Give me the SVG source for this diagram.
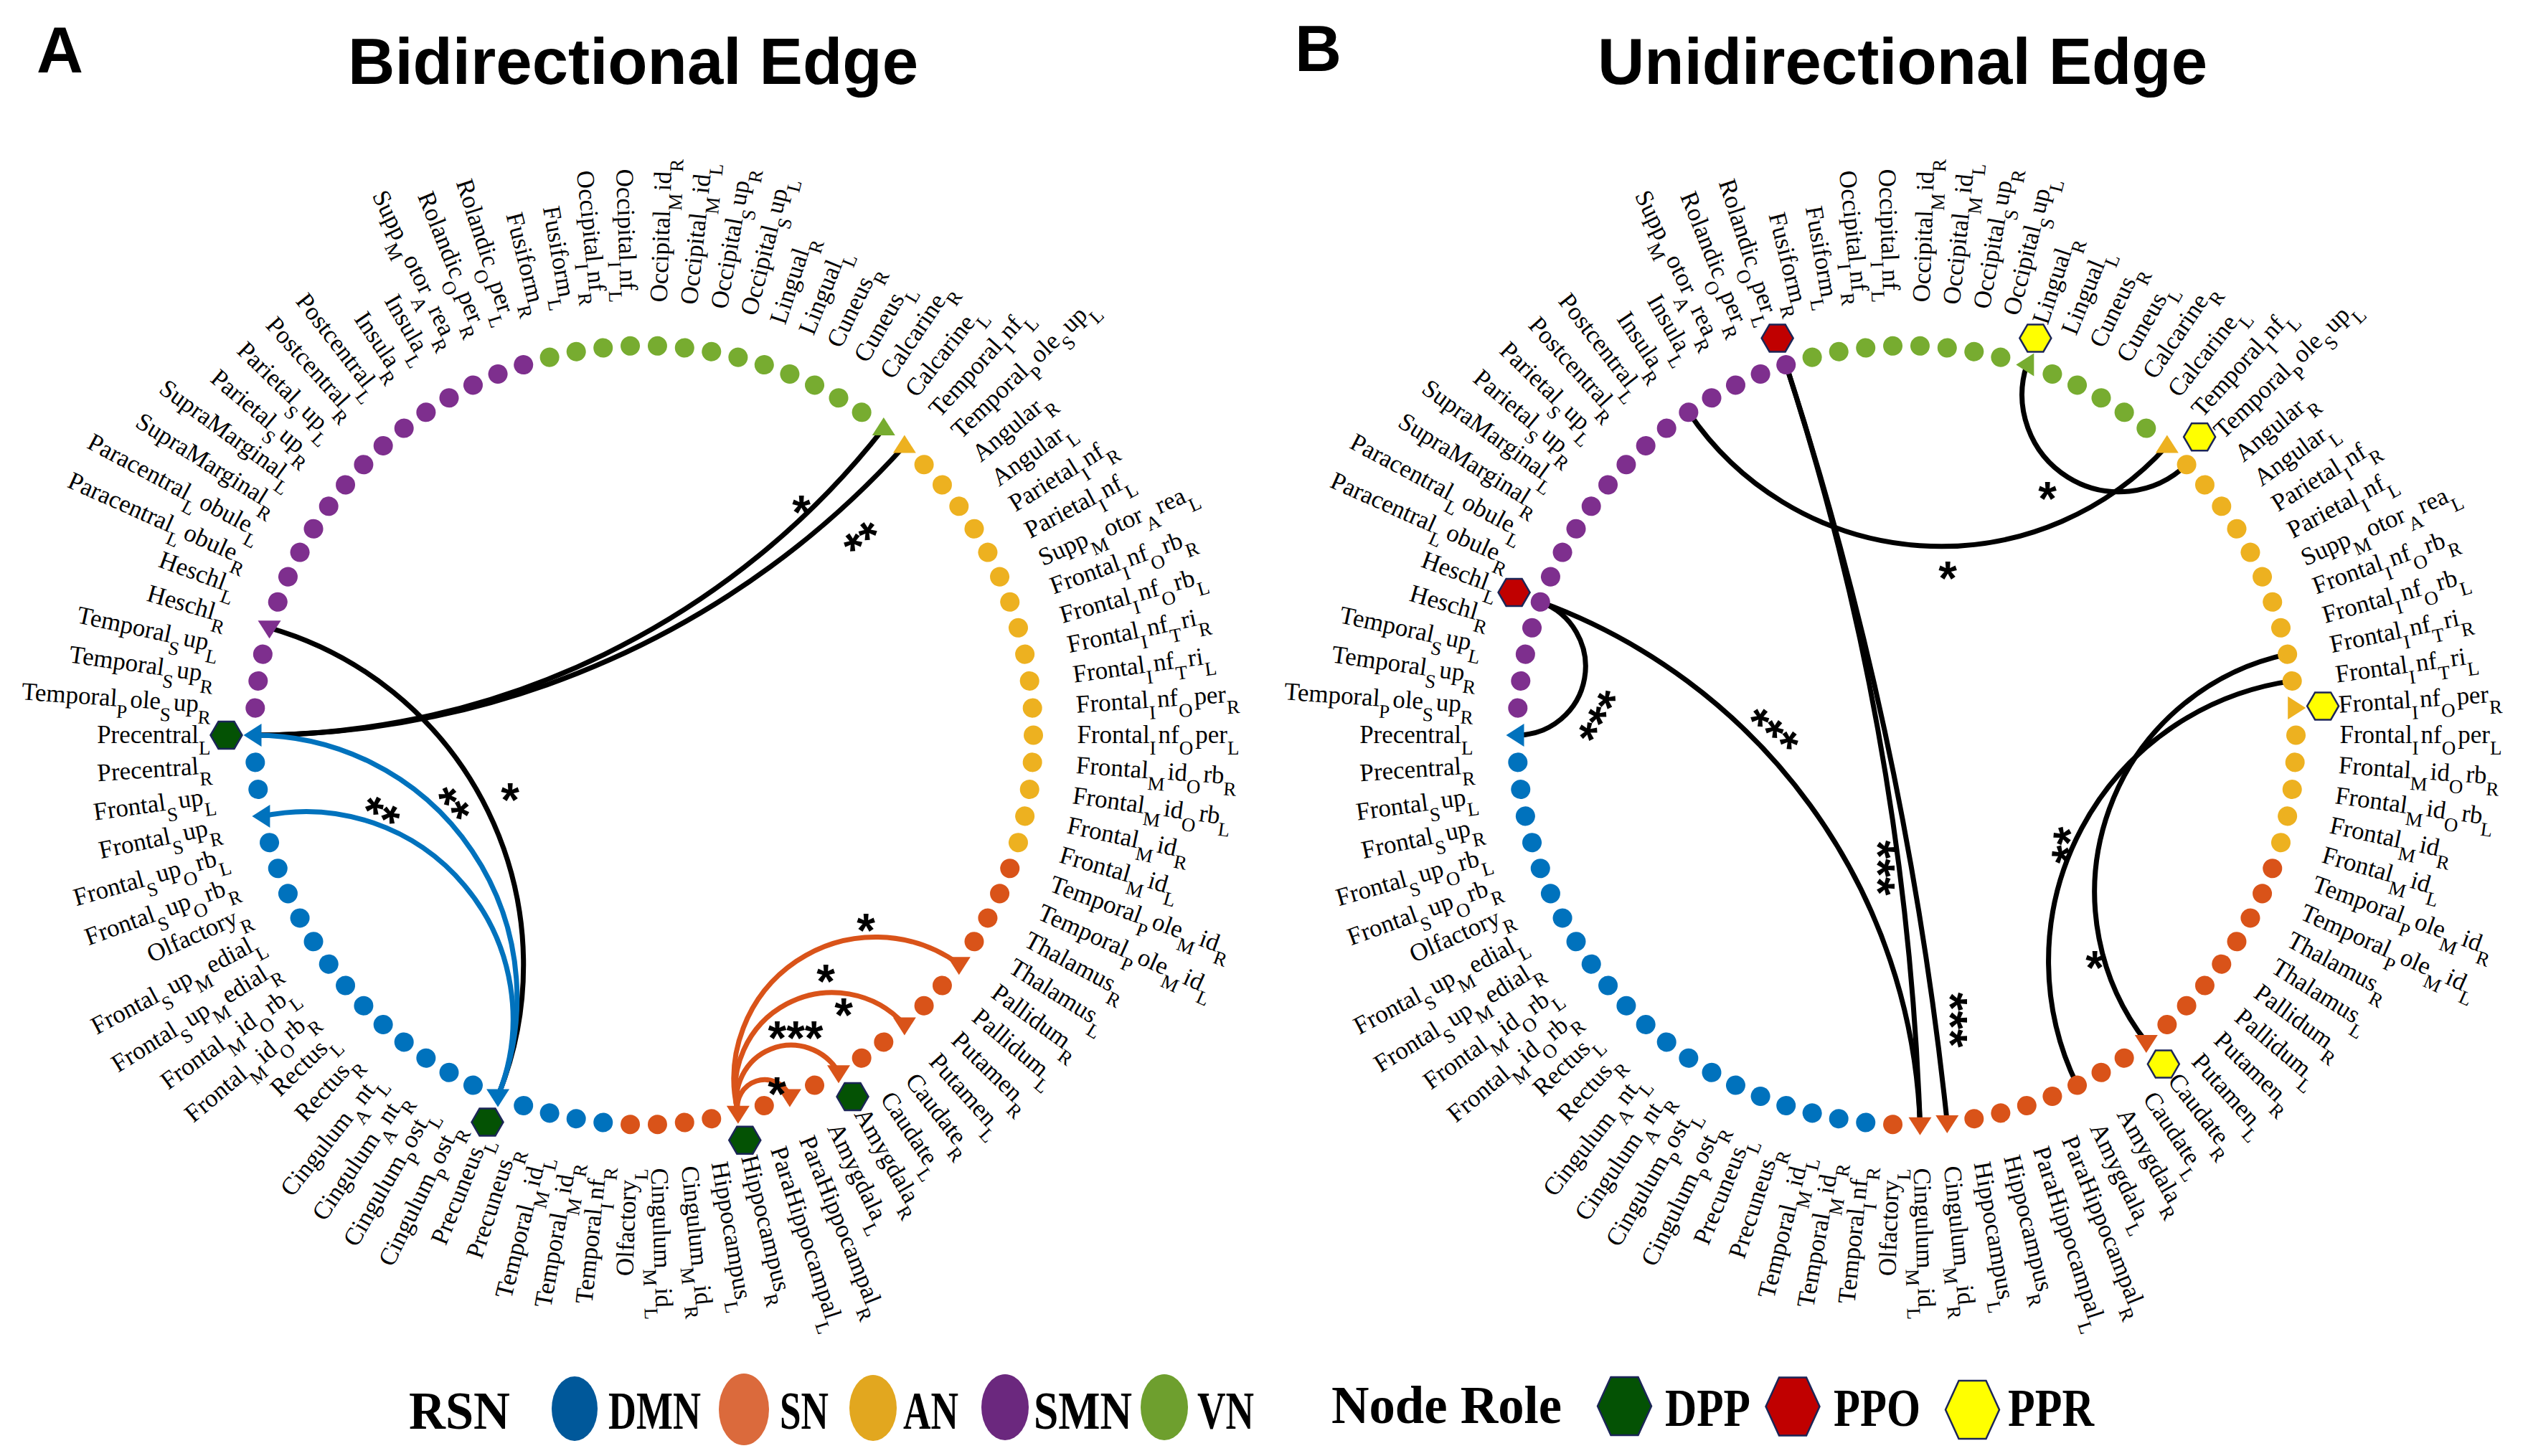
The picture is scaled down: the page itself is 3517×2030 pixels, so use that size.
<svg xmlns="http://www.w3.org/2000/svg" width="3517" height="2030" viewBox="0 0 3517 2030">
<style>
.b{fill:#0072BD}.o{fill:#D95319}.y{fill:#EDB120}.p{fill:#7E2F8E}.g{fill:#77AC30}
text{font-family:"Liberation Serif","Times New Roman",serif;fill:#000}
.lr{font-size:35px}
.ll{font-size:35px;text-anchor:end}
.s{font-size:27px}
.e{fill:none;stroke:#000;stroke-width:7}
.eb{stroke:#0072BD}.eo{stroke:#D95319}
.st{font-family:"Liberation Sans",Arial,sans-serif;font-weight:bold;font-size:66px;text-anchor:middle}
.ti{font-family:"Liberation Sans",Arial,sans-serif;font-weight:bold;font-size:90px}
.hx{stroke:#1B2557;stroke-width:2.5}
.dpp{fill:#045204}.ppo{fill:#C00000}.ppr{fill:#FFFF00}
.lg{font-size:74px;font-weight:bold}
</style>
<defs>
<circle id="d" cx="543" cy="0" r="13.5"/>
<polygon id="tr" points="15,0 -10,-16 -10,16"/>
<polygon id="hx" points="-22,0 -11,-19 11,-19 22,0 11,19 -11,19"/>
<polygon id="hxl" points="-37.5,0 -19,-40.5 19,-40.5 37.5,0 19,40.5 -19,40.5"/>
<text id="L1" class="ll" transform="rotate(180)" x="-604" y="11">Precentral<tspan class="s" dy="16">L</tspan></text>
<text id="L2" class="ll" transform="rotate(180)" x="-604" y="11">Precentral<tspan class="s" dy="16">R</tspan></text>
<text id="L3" class="ll" transform="rotate(180)" x="-604" y="11">Frontal<tspan class="s" dy="16">S</tspan><tspan dx="3" dy="-16">up</tspan><tspan class="s" dy="16">L</tspan></text>
<text id="L4" class="ll" transform="rotate(180)" x="-604" y="11">Frontal<tspan class="s" dy="16">S</tspan><tspan dx="3" dy="-16">up</tspan><tspan class="s" dy="16">R</tspan></text>
<text id="L5" class="ll" transform="rotate(180)" x="-604" y="11">Frontal<tspan class="s" dy="16">S</tspan><tspan dx="3" dy="-16">up</tspan><tspan class="s" dy="16">O</tspan><tspan dx="3" dy="-16">rb</tspan><tspan class="s" dy="16">L</tspan></text>
<text id="L6" class="ll" transform="rotate(180)" x="-604" y="11">Frontal<tspan class="s" dy="16">S</tspan><tspan dx="3" dy="-16">up</tspan><tspan class="s" dy="16">O</tspan><tspan dx="3" dy="-16">rb</tspan><tspan class="s" dy="16">R</tspan></text>
<text id="L7" class="ll" transform="rotate(180)" x="-604" y="11">Olfactory<tspan class="s" dy="16">R</tspan></text>
<text id="L8" class="ll" transform="rotate(180)" x="-604" y="11">Frontal<tspan class="s" dy="16">S</tspan><tspan dx="3" dy="-16">up</tspan><tspan class="s" dy="16">M</tspan><tspan dx="3" dy="-16">edial</tspan><tspan class="s" dy="16">L</tspan></text>
<text id="L9" class="ll" transform="rotate(180)" x="-604" y="11">Frontal<tspan class="s" dy="16">S</tspan><tspan dx="3" dy="-16">up</tspan><tspan class="s" dy="16">M</tspan><tspan dx="3" dy="-16">edial</tspan><tspan class="s" dy="16">R</tspan></text>
<text id="L10" class="ll" transform="rotate(180)" x="-604" y="11">Frontal<tspan class="s" dy="16">M</tspan><tspan dx="3" dy="-16">id</tspan><tspan class="s" dy="16">O</tspan><tspan dx="3" dy="-16">rb</tspan><tspan class="s" dy="16">L</tspan></text>
<text id="L11" class="ll" transform="rotate(180)" x="-604" y="11">Frontal<tspan class="s" dy="16">M</tspan><tspan dx="3" dy="-16">id</tspan><tspan class="s" dy="16">O</tspan><tspan dx="3" dy="-16">rb</tspan><tspan class="s" dy="16">R</tspan></text>
<text id="L12" class="ll" transform="rotate(180)" x="-604" y="11">Rectus<tspan class="s" dy="16">L</tspan></text>
<text id="L13" class="ll" transform="rotate(180)" x="-604" y="11">Rectus<tspan class="s" dy="16">R</tspan></text>
<text id="L14" class="ll" transform="rotate(180)" x="-604" y="11">Cingulum<tspan class="s" dy="16">A</tspan><tspan dx="3" dy="-16">nt</tspan><tspan class="s" dy="16">L</tspan></text>
<text id="L15" class="ll" transform="rotate(180)" x="-604" y="11">Cingulum<tspan class="s" dy="16">A</tspan><tspan dx="3" dy="-16">nt</tspan><tspan class="s" dy="16">R</tspan></text>
<text id="L16" class="ll" transform="rotate(180)" x="-604" y="11">Cingulum<tspan class="s" dy="16">P</tspan><tspan dx="3" dy="-16">ost</tspan><tspan class="s" dy="16">L</tspan></text>
<text id="L17" class="ll" transform="rotate(180)" x="-604" y="11">Cingulum<tspan class="s" dy="16">P</tspan><tspan dx="3" dy="-16">ost</tspan><tspan class="s" dy="16">R</tspan></text>
<text id="L18" class="ll" transform="rotate(180)" x="-604" y="11">Precuneus<tspan class="s" dy="16">L</tspan></text>
<text id="L19" class="ll" transform="rotate(180)" x="-604" y="11">Precuneus<tspan class="s" dy="16">R</tspan></text>
<text id="L20" class="ll" transform="rotate(180)" x="-604" y="11">Temporal<tspan class="s" dy="16">M</tspan><tspan dx="3" dy="-16">id</tspan><tspan class="s" dy="16">L</tspan></text>
<text id="L21" class="ll" transform="rotate(180)" x="-604" y="11">Temporal<tspan class="s" dy="16">M</tspan><tspan dx="3" dy="-16">id</tspan><tspan class="s" dy="16">R</tspan></text>
<text id="L22" class="ll" transform="rotate(180)" x="-604" y="11">Temporal<tspan class="s" dy="16">I</tspan><tspan dx="3" dy="-16">nf</tspan><tspan class="s" dy="16">R</tspan></text>
<text id="L23" class="ll" transform="rotate(180)" x="-604" y="11">Olfactory<tspan class="s" dy="16">L</tspan></text>
<text id="L24" class="lr" x="604" y="11">Cingulum<tspan class="s" dy="16">M</tspan><tspan dx="3" dy="-16">id</tspan><tspan class="s" dy="16">L</tspan></text>
<text id="L25" class="lr" x="604" y="11">Cingulum<tspan class="s" dy="16">M</tspan><tspan dx="3" dy="-16">id</tspan><tspan class="s" dy="16">R</tspan></text>
<text id="L26" class="lr" x="604" y="11">Hippocampus<tspan class="s" dy="16">L</tspan></text>
<text id="L27" class="lr" x="604" y="11">Hippocampus<tspan class="s" dy="16">R</tspan></text>
<text id="L28" class="lr" x="604" y="11">ParaHippocampal<tspan class="s" dy="16">L</tspan></text>
<text id="L29" class="lr" x="604" y="11">ParaHippocampal<tspan class="s" dy="16">R</tspan></text>
<text id="L30" class="lr" x="604" y="11">Amygdala<tspan class="s" dy="16">L</tspan></text>
<text id="L31" class="lr" x="604" y="11">Amygdala<tspan class="s" dy="16">R</tspan></text>
<text id="L32" class="lr" x="604" y="11">Caudate<tspan class="s" dy="16">L</tspan></text>
<text id="L33" class="lr" x="604" y="11">Caudate<tspan class="s" dy="16">R</tspan></text>
<text id="L34" class="lr" x="604" y="11">Putamen<tspan class="s" dy="16">L</tspan></text>
<text id="L35" class="lr" x="604" y="11">Putamen<tspan class="s" dy="16">R</tspan></text>
<text id="L36" class="lr" x="604" y="11">Pallidum<tspan class="s" dy="16">L</tspan></text>
<text id="L37" class="lr" x="604" y="11">Pallidum<tspan class="s" dy="16">R</tspan></text>
<text id="L38" class="lr" x="604" y="11">Thalamus<tspan class="s" dy="16">L</tspan></text>
<text id="L39" class="lr" x="604" y="11">Thalamus<tspan class="s" dy="16">R</tspan></text>
<text id="L40" class="lr" x="604" y="11">Temporal<tspan class="s" dy="16">P</tspan><tspan dx="3" dy="-16">ole</tspan><tspan class="s" dy="16">M</tspan><tspan dx="3" dy="-16">id</tspan><tspan class="s" dy="16">L</tspan></text>
<text id="L41" class="lr" x="604" y="11">Temporal<tspan class="s" dy="16">P</tspan><tspan dx="3" dy="-16">ole</tspan><tspan class="s" dy="16">M</tspan><tspan dx="3" dy="-16">id</tspan><tspan class="s" dy="16">R</tspan></text>
<text id="L42" class="lr" x="604" y="11">Frontal<tspan class="s" dy="16">M</tspan><tspan dx="3" dy="-16">id</tspan><tspan class="s" dy="16">L</tspan></text>
<text id="L43" class="lr" x="604" y="11">Frontal<tspan class="s" dy="16">M</tspan><tspan dx="3" dy="-16">id</tspan><tspan class="s" dy="16">R</tspan></text>
<text id="L44" class="lr" x="604" y="11">Frontal<tspan class="s" dy="16">M</tspan><tspan dx="3" dy="-16">id</tspan><tspan class="s" dy="16">O</tspan><tspan dx="3" dy="-16">rb</tspan><tspan class="s" dy="16">L</tspan></text>
<text id="L45" class="lr" x="604" y="11">Frontal<tspan class="s" dy="16">M</tspan><tspan dx="3" dy="-16">id</tspan><tspan class="s" dy="16">O</tspan><tspan dx="3" dy="-16">rb</tspan><tspan class="s" dy="16">R</tspan></text>
<text id="L46" class="lr" x="604" y="11">Frontal<tspan class="s" dy="16">I</tspan><tspan dx="3" dy="-16">nf</tspan><tspan class="s" dy="16">O</tspan><tspan dx="3" dy="-16">per</tspan><tspan class="s" dy="16">L</tspan></text>
<text id="L47" class="lr" x="604" y="11">Frontal<tspan class="s" dy="16">I</tspan><tspan dx="3" dy="-16">nf</tspan><tspan class="s" dy="16">O</tspan><tspan dx="3" dy="-16">per</tspan><tspan class="s" dy="16">R</tspan></text>
<text id="L48" class="lr" x="604" y="11">Frontal<tspan class="s" dy="16">I</tspan><tspan dx="3" dy="-16">nf</tspan><tspan class="s" dy="16">T</tspan><tspan dx="3" dy="-16">ri</tspan><tspan class="s" dy="16">L</tspan></text>
<text id="L49" class="lr" x="604" y="11">Frontal<tspan class="s" dy="16">I</tspan><tspan dx="3" dy="-16">nf</tspan><tspan class="s" dy="16">T</tspan><tspan dx="3" dy="-16">ri</tspan><tspan class="s" dy="16">R</tspan></text>
<text id="L50" class="lr" x="604" y="11">Frontal<tspan class="s" dy="16">I</tspan><tspan dx="3" dy="-16">nf</tspan><tspan class="s" dy="16">O</tspan><tspan dx="3" dy="-16">rb</tspan><tspan class="s" dy="16">L</tspan></text>
<text id="L51" class="lr" x="604" y="11">Frontal<tspan class="s" dy="16">I</tspan><tspan dx="3" dy="-16">nf</tspan><tspan class="s" dy="16">O</tspan><tspan dx="3" dy="-16">rb</tspan><tspan class="s" dy="16">R</tspan></text>
<text id="L52" class="lr" x="604" y="11">Supp<tspan class="s" dy="16">M</tspan><tspan dx="3" dy="-16">otor</tspan><tspan class="s" dy="16">A</tspan><tspan dx="3" dy="-16">rea</tspan><tspan class="s" dy="16">L</tspan></text>
<text id="L53" class="lr" x="604" y="11">Parietal<tspan class="s" dy="16">I</tspan><tspan dx="3" dy="-16">nf</tspan><tspan class="s" dy="16">L</tspan></text>
<text id="L54" class="lr" x="604" y="11">Parietal<tspan class="s" dy="16">I</tspan><tspan dx="3" dy="-16">nf</tspan><tspan class="s" dy="16">R</tspan></text>
<text id="L55" class="lr" x="604" y="11">Angular<tspan class="s" dy="16">L</tspan></text>
<text id="L56" class="lr" x="604" y="11">Angular<tspan class="s" dy="16">R</tspan></text>
<text id="L57" class="lr" x="604" y="11">Temporal<tspan class="s" dy="16">P</tspan><tspan dx="3" dy="-16">ole</tspan><tspan class="s" dy="16">S</tspan><tspan dx="3" dy="-16">up</tspan><tspan class="s" dy="16">L</tspan></text>
<text id="L58" class="lr" x="604" y="11">Temporal<tspan class="s" dy="16">I</tspan><tspan dx="3" dy="-16">nf</tspan><tspan class="s" dy="16">L</tspan></text>
<text id="L59" class="lr" x="604" y="11">Calcarine<tspan class="s" dy="16">L</tspan></text>
<text id="L60" class="lr" x="604" y="11">Calcarine<tspan class="s" dy="16">R</tspan></text>
<text id="L61" class="lr" x="604" y="11">Cuneus<tspan class="s" dy="16">L</tspan></text>
<text id="L62" class="lr" x="604" y="11">Cuneus<tspan class="s" dy="16">R</tspan></text>
<text id="L63" class="lr" x="604" y="11">Lingual<tspan class="s" dy="16">L</tspan></text>
<text id="L64" class="lr" x="604" y="11">Lingual<tspan class="s" dy="16">R</tspan></text>
<text id="L65" class="lr" x="604" y="11">Occipital<tspan class="s" dy="16">S</tspan><tspan dx="3" dy="-16">up</tspan><tspan class="s" dy="16">L</tspan></text>
<text id="L66" class="lr" x="604" y="11">Occipital<tspan class="s" dy="16">S</tspan><tspan dx="3" dy="-16">up</tspan><tspan class="s" dy="16">R</tspan></text>
<text id="L67" class="lr" x="604" y="11">Occipital<tspan class="s" dy="16">M</tspan><tspan dx="3" dy="-16">id</tspan><tspan class="s" dy="16">L</tspan></text>
<text id="L68" class="lr" x="604" y="11">Occipital<tspan class="s" dy="16">M</tspan><tspan dx="3" dy="-16">id</tspan><tspan class="s" dy="16">R</tspan></text>
<text id="L69" class="ll" transform="rotate(180)" x="-604" y="11">Occipital<tspan class="s" dy="16">I</tspan><tspan dx="3" dy="-16">nf</tspan><tspan class="s" dy="16">L</tspan></text>
<text id="L70" class="ll" transform="rotate(180)" x="-604" y="11">Occipital<tspan class="s" dy="16">I</tspan><tspan dx="3" dy="-16">nf</tspan><tspan class="s" dy="16">R</tspan></text>
<text id="L71" class="ll" transform="rotate(180)" x="-604" y="11">Fusiform<tspan class="s" dy="16">L</tspan></text>
<text id="L72" class="ll" transform="rotate(180)" x="-604" y="11">Fusiform<tspan class="s" dy="16">R</tspan></text>
<text id="L73" class="ll" transform="rotate(180)" x="-604" y="11">Rolandic<tspan class="s" dy="16">O</tspan><tspan dx="3" dy="-16">per</tspan><tspan class="s" dy="16">L</tspan></text>
<text id="L74" class="ll" transform="rotate(180)" x="-604" y="11">Rolandic<tspan class="s" dy="16">O</tspan><tspan dx="3" dy="-16">per</tspan><tspan class="s" dy="16">R</tspan></text>
<text id="L75" class="ll" transform="rotate(180)" x="-604" y="11">Supp<tspan class="s" dy="16">M</tspan><tspan dx="3" dy="-16">otor</tspan><tspan class="s" dy="16">A</tspan><tspan dx="3" dy="-16">rea</tspan><tspan class="s" dy="16">R</tspan></text>
<text id="L76" class="ll" transform="rotate(180)" x="-604" y="11">Insula<tspan class="s" dy="16">L</tspan></text>
<text id="L77" class="ll" transform="rotate(180)" x="-604" y="11">Insula<tspan class="s" dy="16">R</tspan></text>
<text id="L78" class="ll" transform="rotate(180)" x="-604" y="11">Postcentral<tspan class="s" dy="16">L</tspan></text>
<text id="L79" class="ll" transform="rotate(180)" x="-604" y="11">Postcentral<tspan class="s" dy="16">R</tspan></text>
<text id="L80" class="ll" transform="rotate(180)" x="-604" y="11">Parietal<tspan class="s" dy="16">S</tspan><tspan dx="3" dy="-16">up</tspan><tspan class="s" dy="16">L</tspan></text>
<text id="L81" class="ll" transform="rotate(180)" x="-604" y="11">Parietal<tspan class="s" dy="16">S</tspan><tspan dx="3" dy="-16">up</tspan><tspan class="s" dy="16">R</tspan></text>
<text id="L82" class="ll" transform="rotate(180)" x="-604" y="11">SupraMarginal<tspan class="s" dy="16">L</tspan></text>
<text id="L83" class="ll" transform="rotate(180)" x="-604" y="11">SupraMarginal<tspan class="s" dy="16">R</tspan></text>
<text id="L84" class="ll" transform="rotate(180)" x="-604" y="11">Paracentral<tspan class="s" dy="16">L</tspan><tspan dx="3" dy="-16">obule</tspan><tspan class="s" dy="16">L</tspan></text>
<text id="L85" class="ll" transform="rotate(180)" x="-604" y="11">Paracentral<tspan class="s" dy="16">L</tspan><tspan dx="3" dy="-16">obule</tspan><tspan class="s" dy="16">R</tspan></text>
<text id="L86" class="ll" transform="rotate(180)" x="-604" y="11">Heschl<tspan class="s" dy="16">L</tspan></text>
<text id="L87" class="ll" transform="rotate(180)" x="-604" y="11">Heschl<tspan class="s" dy="16">R</tspan></text>
<text id="L88" class="ll" transform="rotate(180)" x="-604" y="11">Temporal<tspan class="s" dy="16">S</tspan><tspan dx="3" dy="-16">up</tspan><tspan class="s" dy="16">L</tspan></text>
<text id="L89" class="ll" transform="rotate(180)" x="-604" y="11">Temporal<tspan class="s" dy="16">S</tspan><tspan dx="3" dy="-16">up</tspan><tspan class="s" dy="16">R</tspan></text>
<text id="L90" class="ll" transform="rotate(180)" x="-604" y="11">Temporal<tspan class="s" dy="16">P</tspan><tspan dx="3" dy="-16">ole</tspan><tspan class="s" dy="16">S</tspan><tspan dx="3" dy="-16">up</tspan><tspan class="s" dy="16">R</tspan></text>
</defs>
<rect width="3517" height="2030" fill="#fff"/>
<g id="titles">
<text class="ti" x="51" y="101" font-size="88">A</text>
<text class="ti" x="485" y="117" textLength="795" lengthAdjust="spacingAndGlyphs">Bidirectional Edge</text>
<text class="ti" x="1805" y="99" font-size="88">B</text>
<text class="ti" x="2227" y="117" textLength="850" lengthAdjust="spacingAndGlyphs">Unidirectional Edge</text>
</g>
<g id="connectors">
<path class="e" d="M354.5,1025 A1113.3,1113.3 0 0 0 1231.8,597.1"/>
<path class="e" d="M354.5,1025 A1219.6,1219.6 0 0 0 1260.8,621.5"/>
<path class="e" d="M375.5,875.3 A488.9,488.9 0 0 1 694.1,1528.5"/>
<path class="e eb" d="M354.5,1025 A366.3,366.3 0 0 1 694.1,1528.5"/>
<path class="e eb" d="M366.4,1137.9 A288.7,288.7 0 0 1 694.1,1528.5"/>
<path class="e eo" d="M1028.9,1551.9 A38,38 0 0 1 1100.9,1528.5"/>
<path class="e eo" d="M1028.9,1551.9 A76.3,76.3 0 0 1 1169,1495.3"/>
<path class="e eo" d="M1028.9,1551.9 A135.4,135.4 0 0 1 1260.8,1428.5"/>
<path class="e eo" d="M1028.9,1551.9 A197.6,197.6 0 0 1 1336.8,1344.2"/>
<path class="e" d="M2147.3,839.3 A95.75,95.75 0 0 1 2114.5,1025"/>
<path class="e" d="M2147.3,839.3 A805,805 0 0 1 2676.5,1567.7"/>
<path class="e" d="M2489.7,508.6 A3863.6,3863.6 0 0 1 2676.5,1567.7"/>
<path class="e" d="M2489.7,508.6 A5166.3,5166.3 0 0 1 2714.3,1565"/>
<path class="e" d="M2353.9,574.8 A424.2,424.2 0 0 0 3020.8,621.5"/>
<path class="e" d="M3048.1,647.8 A135.4,135.4 0 0 1 2825.3,508.6"/>
<path class="e" d="M3188.6,912.1 A339.3,339.3 0 0 0 2991.8,1452.9"/>
<path class="e" d="M2895.5,1513 A394.5,394.5 0 0 1 3195.2,949.4"/>
</g>
<g id="nodesA" transform="translate(897.5,1025)">
<g id="a1" transform="rotate(180)"><use href="#tr" class="b" transform="translate(543,0)"/><use href="#hx" class="hx dpp" transform="translate(582,0) rotate(-180)"/><use href="#L1"/></g>
<g id="a2" transform="rotate(176)"><use href="#d" class="b"/><use href="#L2"/></g>
<g id="a3" transform="rotate(172)"><use href="#d" class="b"/><use href="#L3"/></g>
<g id="a4" transform="rotate(168)"><use href="#tr" class="b" transform="translate(543,0) rotate(12)"/><use href="#L4"/></g>
<g id="a5" transform="rotate(164)"><use href="#d" class="b"/><use href="#L5"/></g>
<g id="a6" transform="rotate(160)"><use href="#d" class="b"/><use href="#L6"/></g>
<g id="a7" transform="rotate(156)"><use href="#d" class="b"/><use href="#L7"/></g>
<g id="a8" transform="rotate(152)"><use href="#d" class="b"/><use href="#L8"/></g>
<g id="a9" transform="rotate(148)"><use href="#d" class="b"/><use href="#L9"/></g>
<g id="a10" transform="rotate(144)"><use href="#d" class="b"/><use href="#L10"/></g>
<g id="a11" transform="rotate(140)"><use href="#d" class="b"/><use href="#L11"/></g>
<g id="a12" transform="rotate(136)"><use href="#d" class="b"/><use href="#L12"/></g>
<g id="a13" transform="rotate(132)"><use href="#d" class="b"/><use href="#L13"/></g>
<g id="a14" transform="rotate(128)"><use href="#d" class="b"/><use href="#L14"/></g>
<g id="a15" transform="rotate(124)"><use href="#d" class="b"/><use href="#L15"/></g>
<g id="a16" transform="rotate(120)"><use href="#d" class="b"/><use href="#L16"/></g>
<g id="a17" transform="rotate(116)"><use href="#d" class="b"/><use href="#L17"/></g>
<g id="a18" transform="rotate(112)"><use href="#tr" class="b" transform="translate(543,0) rotate(-22)"/><use href="#hx" class="hx dpp" transform="translate(582,0) rotate(-112)"/><use href="#L18"/></g>
<g id="a19" transform="rotate(108)"><use href="#d" class="b"/><use href="#L19"/></g>
<g id="a20" transform="rotate(104)"><use href="#d" class="b"/><use href="#L20"/></g>
<g id="a21" transform="rotate(100)"><use href="#d" class="b"/><use href="#L21"/></g>
<g id="a22" transform="rotate(96)"><use href="#d" class="b"/><use href="#L22"/></g>
<g id="a23" transform="rotate(92)"><use href="#d" class="o"/><use href="#L23"/></g>
<g id="a24" transform="rotate(88)"><use href="#d" class="o"/><use href="#L24"/></g>
<g id="a25" transform="rotate(84)"><use href="#d" class="o"/><use href="#L25"/></g>
<g id="a26" transform="rotate(80)"><use href="#d" class="o"/><use href="#L26"/></g>
<g id="a27" transform="rotate(76)"><use href="#tr" class="o" transform="translate(543,0) rotate(14)"/><use href="#hx" class="hx dpp" transform="translate(582,0) rotate(-76)"/><use href="#L27"/></g>
<g id="a28" transform="rotate(72)"><use href="#d" class="o"/><use href="#L28"/></g>
<g id="a29" transform="rotate(68)"><use href="#tr" class="o" transform="translate(543,0) rotate(22)"/><use href="#L29"/></g>
<g id="a30" transform="rotate(64)"><use href="#d" class="o"/><use href="#L30"/></g>
<g id="a31" transform="rotate(60)"><use href="#tr" class="o" transform="translate(543,0) rotate(30)"/><use href="#hx" class="hx dpp" transform="translate(582,0) rotate(-60)"/><use href="#L31"/></g>
<g id="a32" transform="rotate(56)"><use href="#d" class="o"/><use href="#L32"/></g>
<g id="a33" transform="rotate(52)"><use href="#d" class="o"/><use href="#L33"/></g>
<g id="a34" transform="rotate(48)"><use href="#tr" class="o" transform="translate(543,0) rotate(42)"/><use href="#L34"/></g>
<g id="a35" transform="rotate(44)"><use href="#d" class="o"/><use href="#L35"/></g>
<g id="a36" transform="rotate(40)"><use href="#d" class="o"/><use href="#L36"/></g>
<g id="a37" transform="rotate(36)"><use href="#tr" class="o" transform="translate(543,0) rotate(54)"/><use href="#L37"/></g>
<g id="a38" transform="rotate(32)"><use href="#d" class="o"/><use href="#L38"/></g>
<g id="a39" transform="rotate(28)"><use href="#d" class="o"/><use href="#L39"/></g>
<g id="a40" transform="rotate(24)"><use href="#d" class="o"/><use href="#L40"/></g>
<g id="a41" transform="rotate(20)"><use href="#d" class="o"/><use href="#L41"/></g>
<g id="a42" transform="rotate(16)"><use href="#d" class="y"/><use href="#L42"/></g>
<g id="a43" transform="rotate(12)"><use href="#d" class="y"/><use href="#L43"/></g>
<g id="a44" transform="rotate(8)"><use href="#d" class="y"/><use href="#L44"/></g>
<g id="a45" transform="rotate(4)"><use href="#d" class="y"/><use href="#L45"/></g>
<g id="a46" transform="rotate(0)"><use href="#d" class="y"/><use href="#L46"/></g>
<g id="a47" transform="rotate(-4)"><use href="#d" class="y"/><use href="#L47"/></g>
<g id="a48" transform="rotate(-8)"><use href="#d" class="y"/><use href="#L48"/></g>
<g id="a49" transform="rotate(-12)"><use href="#d" class="y"/><use href="#L49"/></g>
<g id="a50" transform="rotate(-16)"><use href="#d" class="y"/><use href="#L50"/></g>
<g id="a51" transform="rotate(-20)"><use href="#d" class="y"/><use href="#L51"/></g>
<g id="a52" transform="rotate(-24)"><use href="#d" class="y"/><use href="#L52"/></g>
<g id="a53" transform="rotate(-28)"><use href="#d" class="y"/><use href="#L53"/></g>
<g id="a54" transform="rotate(-32)"><use href="#d" class="y"/><use href="#L54"/></g>
<g id="a55" transform="rotate(-36)"><use href="#d" class="y"/><use href="#L55"/></g>
<g id="a56" transform="rotate(-40)"><use href="#d" class="y"/><use href="#L56"/></g>
<g id="a57" transform="rotate(-44)"><use href="#d" class="y"/><use href="#L57"/></g>
<g id="a58" transform="rotate(-48)"><use href="#tr" class="y" transform="translate(543,0) rotate(-42)"/><use href="#L58"/></g>
<g id="a59" transform="rotate(-52)"><use href="#tr" class="g" transform="translate(543,0) rotate(-38)"/><use href="#L59"/></g>
<g id="a60" transform="rotate(-56)"><use href="#d" class="g"/><use href="#L60"/></g>
<g id="a61" transform="rotate(-60)"><use href="#d" class="g"/><use href="#L61"/></g>
<g id="a62" transform="rotate(-64)"><use href="#d" class="g"/><use href="#L62"/></g>
<g id="a63" transform="rotate(-68)"><use href="#d" class="g"/><use href="#L63"/></g>
<g id="a64" transform="rotate(-72)"><use href="#d" class="g"/><use href="#L64"/></g>
<g id="a65" transform="rotate(-76)"><use href="#d" class="g"/><use href="#L65"/></g>
<g id="a66" transform="rotate(-80)"><use href="#d" class="g"/><use href="#L66"/></g>
<g id="a67" transform="rotate(-84)"><use href="#d" class="g"/><use href="#L67"/></g>
<g id="a68" transform="rotate(-88)"><use href="#d" class="g"/><use href="#L68"/></g>
<g id="a69" transform="rotate(-92)"><use href="#d" class="g"/><use href="#L69"/></g>
<g id="a70" transform="rotate(-96)"><use href="#d" class="g"/><use href="#L70"/></g>
<g id="a71" transform="rotate(-100)"><use href="#d" class="g"/><use href="#L71"/></g>
<g id="a72" transform="rotate(-104)"><use href="#d" class="g"/><use href="#L72"/></g>
<g id="a73" transform="rotate(-108)"><use href="#d" class="p"/><use href="#L73"/></g>
<g id="a74" transform="rotate(-112)"><use href="#d" class="p"/><use href="#L74"/></g>
<g id="a75" transform="rotate(-116)"><use href="#d" class="p"/><use href="#L75"/></g>
<g id="a76" transform="rotate(-120)"><use href="#d" class="p"/><use href="#L76"/></g>
<g id="a77" transform="rotate(-124)"><use href="#d" class="p"/><use href="#L77"/></g>
<g id="a78" transform="rotate(-128)"><use href="#d" class="p"/><use href="#L78"/></g>
<g id="a79" transform="rotate(-132)"><use href="#d" class="p"/><use href="#L79"/></g>
<g id="a80" transform="rotate(-136)"><use href="#d" class="p"/><use href="#L80"/></g>
<g id="a81" transform="rotate(-140)"><use href="#d" class="p"/><use href="#L81"/></g>
<g id="a82" transform="rotate(-144)"><use href="#d" class="p"/><use href="#L82"/></g>
<g id="a83" transform="rotate(-148)"><use href="#d" class="p"/><use href="#L83"/></g>
<g id="a84" transform="rotate(-152)"><use href="#d" class="p"/><use href="#L84"/></g>
<g id="a85" transform="rotate(-156)"><use href="#d" class="p"/><use href="#L85"/></g>
<g id="a86" transform="rotate(-160)"><use href="#d" class="p"/><use href="#L86"/></g>
<g id="a87" transform="rotate(-164)"><use href="#tr" class="p" transform="translate(543,0) rotate(254)"/><use href="#L87"/></g>
<g id="a88" transform="rotate(-168)"><use href="#d" class="p"/><use href="#L88"/></g>
<g id="a89" transform="rotate(-172)"><use href="#d" class="p"/><use href="#L89"/></g>
<g id="a90" transform="rotate(-176)"><use href="#d" class="p"/><use href="#L90"/></g>
</g>
<g id="nodesB" transform="translate(2657.5,1025)">
<g id="b1" transform="rotate(180)"><use href="#tr" class="b" transform="translate(543,0)"/><use href="#L1"/></g>
<g id="b2" transform="rotate(176)"><use href="#d" class="b"/><use href="#L2"/></g>
<g id="b3" transform="rotate(172)"><use href="#d" class="b"/><use href="#L3"/></g>
<g id="b4" transform="rotate(168)"><use href="#d" class="b"/><use href="#L4"/></g>
<g id="b5" transform="rotate(164)"><use href="#d" class="b"/><use href="#L5"/></g>
<g id="b6" transform="rotate(160)"><use href="#d" class="b"/><use href="#L6"/></g>
<g id="b7" transform="rotate(156)"><use href="#d" class="b"/><use href="#L7"/></g>
<g id="b8" transform="rotate(152)"><use href="#d" class="b"/><use href="#L8"/></g>
<g id="b9" transform="rotate(148)"><use href="#d" class="b"/><use href="#L9"/></g>
<g id="b10" transform="rotate(144)"><use href="#d" class="b"/><use href="#L10"/></g>
<g id="b11" transform="rotate(140)"><use href="#d" class="b"/><use href="#L11"/></g>
<g id="b12" transform="rotate(136)"><use href="#d" class="b"/><use href="#L12"/></g>
<g id="b13" transform="rotate(132)"><use href="#d" class="b"/><use href="#L13"/></g>
<g id="b14" transform="rotate(128)"><use href="#d" class="b"/><use href="#L14"/></g>
<g id="b15" transform="rotate(124)"><use href="#d" class="b"/><use href="#L15"/></g>
<g id="b16" transform="rotate(120)"><use href="#d" class="b"/><use href="#L16"/></g>
<g id="b17" transform="rotate(116)"><use href="#d" class="b"/><use href="#L17"/></g>
<g id="b18" transform="rotate(112)"><use href="#d" class="b"/><use href="#L18"/></g>
<g id="b19" transform="rotate(108)"><use href="#d" class="b"/><use href="#L19"/></g>
<g id="b20" transform="rotate(104)"><use href="#d" class="b"/><use href="#L20"/></g>
<g id="b21" transform="rotate(100)"><use href="#d" class="b"/><use href="#L21"/></g>
<g id="b22" transform="rotate(96)"><use href="#d" class="b"/><use href="#L22"/></g>
<g id="b23" transform="rotate(92)"><use href="#d" class="o"/><use href="#L23"/></g>
<g id="b24" transform="rotate(88)"><use href="#tr" class="o" transform="translate(543,0) rotate(2)"/><use href="#L24"/></g>
<g id="b25" transform="rotate(84)"><use href="#tr" class="o" transform="translate(543,0) rotate(6)"/><use href="#L25"/></g>
<g id="b26" transform="rotate(80)"><use href="#d" class="o"/><use href="#L26"/></g>
<g id="b27" transform="rotate(76)"><use href="#d" class="o"/><use href="#L27"/></g>
<g id="b28" transform="rotate(72)"><use href="#d" class="o"/><use href="#L28"/></g>
<g id="b29" transform="rotate(68)"><use href="#d" class="o"/><use href="#L29"/></g>
<g id="b30" transform="rotate(64)"><use href="#d" class="o"/><use href="#L30"/></g>
<g id="b31" transform="rotate(60)"><use href="#d" class="o"/><use href="#L31"/></g>
<g id="b32" transform="rotate(56)"><use href="#d" class="o"/><use href="#L32"/></g>
<g id="b33" transform="rotate(52)"><use href="#tr" class="o" transform="translate(543,0) rotate(38)"/><use href="#hx" class="hx ppr" transform="translate(582,0) rotate(-52)"/><use href="#L33"/></g>
<g id="b34" transform="rotate(48)"><use href="#d" class="o"/><use href="#L34"/></g>
<g id="b35" transform="rotate(44)"><use href="#d" class="o"/><use href="#L35"/></g>
<g id="b36" transform="rotate(40)"><use href="#d" class="o"/><use href="#L36"/></g>
<g id="b37" transform="rotate(36)"><use href="#d" class="o"/><use href="#L37"/></g>
<g id="b38" transform="rotate(32)"><use href="#d" class="o"/><use href="#L38"/></g>
<g id="b39" transform="rotate(28)"><use href="#d" class="o"/><use href="#L39"/></g>
<g id="b40" transform="rotate(24)"><use href="#d" class="o"/><use href="#L40"/></g>
<g id="b41" transform="rotate(20)"><use href="#d" class="o"/><use href="#L41"/></g>
<g id="b42" transform="rotate(16)"><use href="#d" class="y"/><use href="#L42"/></g>
<g id="b43" transform="rotate(12)"><use href="#d" class="y"/><use href="#L43"/></g>
<g id="b44" transform="rotate(8)"><use href="#d" class="y"/><use href="#L44"/></g>
<g id="b45" transform="rotate(4)"><use href="#d" class="y"/><use href="#L45"/></g>
<g id="b46" transform="rotate(0)"><use href="#d" class="y"/><use href="#L46"/></g>
<g id="b47" transform="rotate(-4)"><use href="#tr" class="y" transform="translate(543,0) rotate(4)"/><use href="#hx" class="hx ppr" transform="translate(582,0) rotate(4)"/><use href="#L47"/></g>
<g id="b48" transform="rotate(-8)"><use href="#d" class="y"/><use href="#L48"/></g>
<g id="b49" transform="rotate(-12)"><use href="#d" class="y"/><use href="#L49"/></g>
<g id="b50" transform="rotate(-16)"><use href="#d" class="y"/><use href="#L50"/></g>
<g id="b51" transform="rotate(-20)"><use href="#d" class="y"/><use href="#L51"/></g>
<g id="b52" transform="rotate(-24)"><use href="#d" class="y"/><use href="#L52"/></g>
<g id="b53" transform="rotate(-28)"><use href="#d" class="y"/><use href="#L53"/></g>
<g id="b54" transform="rotate(-32)"><use href="#d" class="y"/><use href="#L54"/></g>
<g id="b55" transform="rotate(-36)"><use href="#d" class="y"/><use href="#L55"/></g>
<g id="b56" transform="rotate(-40)"><use href="#d" class="y"/><use href="#L56"/></g>
<g id="b57" transform="rotate(-44)"><use href="#d" class="y"/><use href="#L57"/></g>
<g id="b58" transform="rotate(-48)"><use href="#tr" class="y" transform="translate(543,0) rotate(-42)"/><use href="#hx" class="hx ppr" transform="rotate(2.5) translate(583,0) rotate(45.5)"/><use href="#L58"/></g>
<g id="b59" transform="rotate(-52)"><use href="#d" class="g"/><use href="#L59"/></g>
<g id="b60" transform="rotate(-56)"><use href="#d" class="g"/><use href="#L60"/></g>
<g id="b61" transform="rotate(-60)"><use href="#d" class="g"/><use href="#L61"/></g>
<g id="b62" transform="rotate(-64)"><use href="#d" class="g"/><use href="#L62"/></g>
<g id="b63" transform="rotate(-68)"><use href="#d" class="g"/><use href="#L63"/></g>
<g id="b64" transform="rotate(-72)"><use href="#tr" class="g" transform="translate(543,0) rotate(252)"/><use href="#hx" class="hx ppr" transform="translate(582,0) rotate(72)"/><use href="#L64"/></g>
<g id="b65" transform="rotate(-76)"><use href="#d" class="g"/><use href="#L65"/></g>
<g id="b66" transform="rotate(-80)"><use href="#d" class="g"/><use href="#L66"/></g>
<g id="b67" transform="rotate(-84)"><use href="#d" class="g"/><use href="#L67"/></g>
<g id="b68" transform="rotate(-88)"><use href="#d" class="g"/><use href="#L68"/></g>
<g id="b69" transform="rotate(-92)"><use href="#d" class="g"/><use href="#L69"/></g>
<g id="b70" transform="rotate(-96)"><use href="#d" class="g"/><use href="#L70"/></g>
<g id="b71" transform="rotate(-100)"><use href="#d" class="g"/><use href="#L71"/></g>
<g id="b72" transform="rotate(-104)"><use href="#d" class="g"/><use href="#L72"/></g>
<g id="b73" transform="rotate(-108)"><use href="#d" class="p"/><use href="#hx" class="hx ppo" transform="translate(582,0) rotate(108)"/><use href="#L73"/></g>
<g id="b74" transform="rotate(-112)"><use href="#d" class="p"/><use href="#L74"/></g>
<g id="b75" transform="rotate(-116)"><use href="#d" class="p"/><use href="#L75"/></g>
<g id="b76" transform="rotate(-120)"><use href="#d" class="p"/><use href="#L76"/></g>
<g id="b77" transform="rotate(-124)"><use href="#d" class="p"/><use href="#L77"/></g>
<g id="b78" transform="rotate(-128)"><use href="#d" class="p"/><use href="#L78"/></g>
<g id="b79" transform="rotate(-132)"><use href="#d" class="p"/><use href="#L79"/></g>
<g id="b80" transform="rotate(-136)"><use href="#d" class="p"/><use href="#L80"/></g>
<g id="b81" transform="rotate(-140)"><use href="#d" class="p"/><use href="#L81"/></g>
<g id="b82" transform="rotate(-144)"><use href="#d" class="p"/><use href="#L82"/></g>
<g id="b83" transform="rotate(-148)"><use href="#d" class="p"/><use href="#L83"/></g>
<g id="b84" transform="rotate(-152)"><use href="#d" class="p"/><use href="#L84"/></g>
<g id="b85" transform="rotate(-156)"><use href="#d" class="p"/><use href="#L85"/></g>
<g id="b86" transform="rotate(-160)"><use href="#d" class="p"/><use href="#hx" class="hx ppo" transform="translate(582,0) rotate(160)"/><use href="#L86"/></g>
<g id="b87" transform="rotate(-164)"><use href="#d" class="p"/><use href="#L87"/></g>
<g id="b88" transform="rotate(-168)"><use href="#d" class="p"/><use href="#L88"/></g>
<g id="b89" transform="rotate(-172)"><use href="#d" class="p"/><use href="#L89"/></g>
<g id="b90" transform="rotate(-176)"><use href="#d" class="p"/><use href="#L90"/></g>
</g>
<g id="stars">
<text class="st" transform="translate(1117,699)" y="38">*</text>
<text class="st" transform="translate(1196,744) rotate(-37)" y="38">**</text>
<text class="st" transform="translate(711,1100)" y="38">*</text>
<text class="st" transform="translate(637,1116) rotate(48)" y="38">**</text>
<text class="st" transform="translate(536,1125) rotate(29)" y="38">**</text>
<text class="st" transform="translate(1207,1282)" y="38">*</text>
<text class="st" transform="translate(1151,1353)" y="38">*</text>
<text class="st" transform="translate(1176,1400)" y="38">*</text>
<text class="st" x="1109" y="1470">***</text>
<text class="st" x="1083" y="1548">*</text>
<text class="st" transform="translate(2222,995) rotate(-60)" y="38">***</text>
<text class="st" transform="translate(2477,1012) rotate(38)" y="38">***</text>
<text class="st" transform="translate(2633,1210) rotate(90)" y="38">***</text>
<text class="st" transform="translate(2734,1422) rotate(90)" y="38">***</text>
<text class="st" transform="translate(2869,1178) rotate(-85)" y="38">**</text>
<text class="st" transform="translate(2920,1334)" y="38">*</text>
<text class="st" transform="translate(2715,791)" y="38">*</text>
<text class="st" transform="translate(2854,680)" y="38">*</text>
</g>
<g id="legend-rsn">
<text class="lg" x="570" y="1992" textLength="141" lengthAdjust="spacingAndGlyphs">RSN</text>
<ellipse cx="801" cy="1964" rx="32" ry="45" fill="#00589A"/>
<text class="lg" x="848" y="1992" textLength="129" lengthAdjust="spacingAndGlyphs">DMN</text>
<ellipse cx="1037" cy="1965" rx="35" ry="50" fill="#DB6A3C"/>
<text class="lg" x="1087" y="1992" textLength="68" lengthAdjust="spacingAndGlyphs">SN</text>
<ellipse cx="1217" cy="1963" rx="33" ry="46" fill="#E2A71F"/>
<text class="lg" x="1259" y="1992" textLength="77" lengthAdjust="spacingAndGlyphs">AN</text>
<ellipse cx="1401" cy="1962" rx="33" ry="46" fill="#6B287E"/>
<text class="lg" x="1441" y="1992" textLength="137" lengthAdjust="spacingAndGlyphs">SMN</text>
<ellipse cx="1623" cy="1962" rx="33" ry="46" fill="#6E9F2E"/>
<text class="lg" x="1669" y="1992" textLength="79" lengthAdjust="spacingAndGlyphs">VN</text>
</g>
<g id="legend-role">
<text class="lg" x="1856" y="1984" textLength="321" lengthAdjust="spacingAndGlyphs">Node Role</text>
<use href="#hxl" class="hx dpp" transform="translate(2264.5,1960.5)"/>
<text class="lg" x="2321" y="1988" textLength="119" lengthAdjust="spacingAndGlyphs">DPP</text>
<use href="#hxl" class="hx ppo" transform="translate(2499,1961)"/>
<text class="lg" x="2556" y="1988" textLength="121" lengthAdjust="spacingAndGlyphs">PPO</text>
<use href="#hxl" class="hx ppr" transform="translate(2749.5,1965.5)"/>
<text class="lg" x="2799" y="1988" textLength="120" lengthAdjust="spacingAndGlyphs">PPR</text>
</g>
</svg>
